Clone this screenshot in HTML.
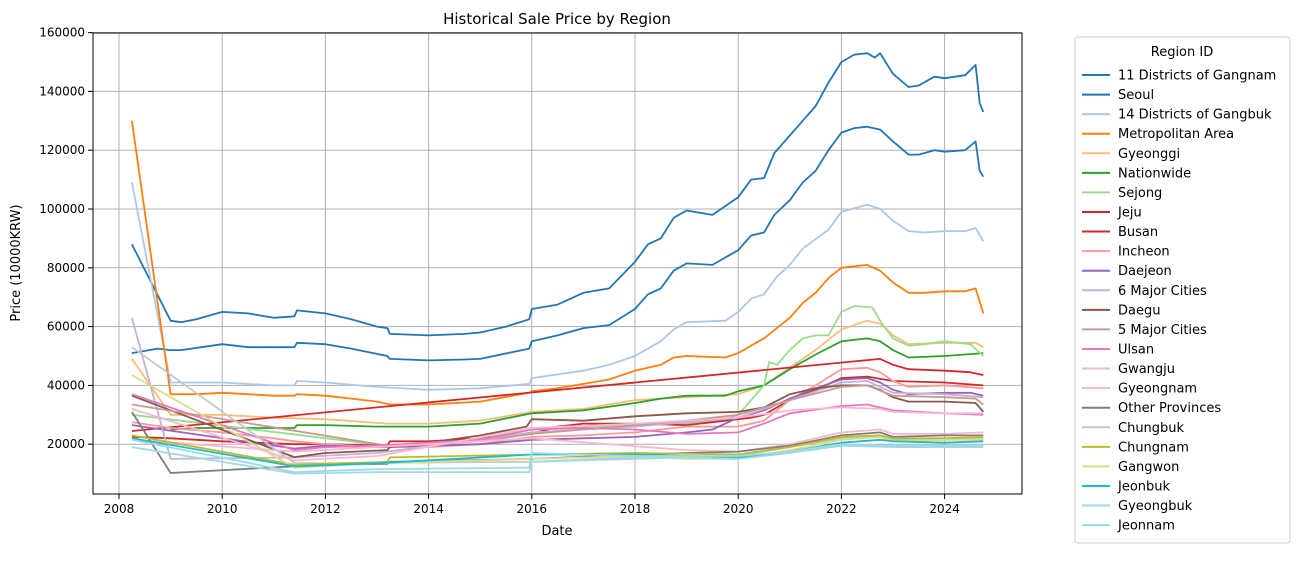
<!DOCTYPE html>
<html><head><meta charset="utf-8"><style>
body{margin:0;background:#fff;font-family:"Liberation Sans","DejaVu Sans",sans-serif;}
svg text{font-family:"DejaVu Sans","Liberation Sans",sans-serif;fill:#000}
</style></head><body>
<svg id="chart" width="1304" height="577" xmlns="http://www.w3.org/2000/svg">
<rect width="1304" height="577" fill="#fff"/>
<g id="grid"></g><g id="series"></g>
<rect x="93" y="33" width="929" height="461" fill="none" stroke="#000" stroke-width="1"/>
<g id="ticks"></g>
<text x="557" y="24" font-size="15" text-anchor="middle">Historical Sale Price by Region</text>
<text x="557" y="535" font-size="13" text-anchor="middle">Date</text>
<text transform="translate(20,263) rotate(-90)" font-size="13" text-anchor="middle">Price (10000KRW)</text>
<g id="legend">
<rect x="1075" y="37" width="215" height="506" rx="3" fill="#fff" stroke="#ccc"/>
<text x="1182" y="56" font-size="13" text-anchor="middle">Region ID</text>
</g>
</svg>
<script>
const names=["11 Districts of Gangnam","Seoul","14 Districts of Gangbuk","Metropolitan Area","Gyeonggi","Nationwide","Sejong","Jeju","Busan","Incheon","Daejeon","6 Major Cities","Daegu","5 Major Cities","Ulsan","Gwangju","Gyeongnam","Other Provinces","Chungbuk","Chungnam","Gangwon","Jeonbuk","Gyeongbuk","Jeonnam"];
const colors=["#1f77b4","#1f77b4","#aec7e8","#ff7f0e","#ffbb78","#2ca02c","#98df8a","#d62728","#d62728","#ff9896","#9467bd","#c5b0d5","#8c564b","#c49c94","#e377c2","#f7b6d2","#f7b6d2","#7f7f7f","#c7c7c7","#bcbd22","#dbdb8d","#17becf","#9edae5","#9edae5"];
const xTicks=[2008,2010,2012,2014,2016,2018,2020,2022,2024];
const yTicks=[20000,40000,60000,80000,100000,120000,140000,160000];
const gangnam=[[2008.25,88000],[2009,62000],[2009.2,61500],[2009.5,62500],[2010,65000],[2010.5,64500],[2011,63000],[2011.4,63500],[2011.45,65500],[2012,64500],[2012.5,62500],[2013,60000],[2013.2,59500],[2013.25,57500],[2014,57000],[2014.7,57500],[2015,58000],[2015.5,60000],[2015.95,62500],[2016,66000],[2016.5,67500],[2017,71500],[2017.5,73000],[2018,82000],[2018.25,88000],[2018.5,90000],[2018.75,97000],[2019,99500],[2019.5,98000],[2019.75,101000],[2020,104000],[2020.25,110000],[2020.5,110500],[2020.7,119000],[2021,125000],[2021.25,130000],[2021.5,135000],[2021.75,143000],[2022,150000],[2022.25,152500],[2022.5,153000],[2022.65,151500],[2022.75,153000],[2023,146000],[2023.3,141500],[2023.5,142000],[2023.8,145000],[2024,144500],[2024.4,145500],[2024.6,149000],[2024.68,136000],[2024.75,133000]];
const seoul=[[2008.25,51000],[2008.75,52500],[2009,52000],[2009.2,52000],[2010,54000],[2010.5,53000],[2011.4,53000],[2011.45,54500],[2012,54000],[2012.5,52500],[2013.2,50000],[2013.25,49000],[2014,48500],[2014.7,48800],[2015,49000],[2015.95,52500],[2016,55000],[2016.5,57000],[2017,59500],[2017.5,60500],[2018,66000],[2018.25,71000],[2018.5,73000],[2018.75,79000],[2019,81500],[2019.5,81000],[2019.75,83500],[2020,86000],[2020.25,91000],[2020.5,92000],[2020.7,98000],[2021,103000],[2021.25,109000],[2021.5,113000],[2021.75,120000],[2022,126000],[2022.25,127500],[2022.5,128000],[2022.75,127000],[2023,123000],[2023.3,118500],[2023.5,118500],[2023.8,120000],[2024,119500],[2024.4,120000],[2024.6,123000],[2024.68,113000],[2024.75,111000]];
const gangbuk=[[2008.25,109000],[2009,41000],[2010,41000],[2011,40000],[2011.4,40000],[2011.45,41500],[2012,41000],[2013,39500],[2014,38500],[2015,39000],[2015.95,40500],[2016,42500],[2017,45000],[2017.5,47000],[2018,50000],[2018.5,55000],[2018.75,59000],[2019,61500],[2019.75,62000],[2020,65000],[2020.25,69500],[2020.5,71000],[2020.75,77000],[2021,81000],[2021.25,86500],[2021.75,93000],[2022,99000],[2022.5,101500],[2022.75,100000],[2023,96000],[2023.3,92500],[2023.6,92000],[2024,92500],[2024.4,92500],[2024.6,93500],[2024.75,89000]];
const metro=[[2008.25,130000],[2009,37000],[2009.5,37000],[2010,37500],[2010.5,37000],[2011,36500],[2011.4,36500],[2011.45,37000],[2012,36500],[2012.5,35500],[2013,34500],[2013.25,33500],[2014,33500],[2015,34500],[2015.95,37500],[2016,38000],[2016.5,39000],[2017,40500],[2017.5,42000],[2018,45000],[2018.5,47000],[2018.75,49500],[2019,50000],[2019.75,49500],[2020,51000],[2020.25,53500],[2020.5,56000],[2021,63000],[2021.25,68000],[2021.5,71500],[2021.75,76500],[2022,80000],[2022.5,81000],[2022.75,79000],[2023,75000],[2023.3,71500],[2023.6,71500],[2024,72000],[2024.4,72000],[2024.6,73000],[2024.75,64500]];
const gyeonggi=[[2008.25,49000],[2009,30000],[2010,30000],[2011,29000],[2012,28500],[2013.2,27000],[2014,27000],[2015,28000],[2016,31000],[2017,32000],[2018,35000],[2019,36000],[2020,37000],[2020.5,40000],[2021,46000],[2021.5,52000],[2022,59000],[2022.5,62000],[2022.75,61000],[2023,57000],[2023.3,54000],[2024,54500],[2024.6,54500],[2024.75,53000]];
const nationwide=[[2009,25000],[2009.5,25500],[2011.4,25500],[2011.45,26500],[2012,26500],[2013,26000],[2014,26000],[2015,27000],[2016,30500],[2017,31500],[2018,34000],[2018.5,35500],[2019,36500],[2019.75,36500],[2020,38000],[2020.5,40000],[2021,45500],[2021.5,50500],[2022,55000],[2022.5,56000],[2022.75,55000],[2023,52000],[2023.3,49500],[2024,50000],[2024.75,51000]];
const sejong=[[2008.25,30000],[2013.2,19500],[2014,20000],[2015,22000],[2016,25000],[2017,26000],[2018,26500],[2019,27000],[2019.7,28000],[2020,30000],[2020.25,35000],[2020.5,40000],[2020.6,48000],[2020.75,47000],[2021,52000],[2021.25,56000],[2021.5,57000],[2021.75,57000],[2022,65000],[2022.25,67000],[2022.6,66500],[2022.75,62000],[2023,56000],[2023.3,53500],[2023.6,54000],[2024,55000],[2024.5,54000],[2024.75,50000]];
const jeju=[[2008.25,24500],[2022.75,49000],[2023,47000],[2023.3,45500],[2024,45000],[2024.5,44500],[2024.75,43500]];
const busan=[[2008.25,22500],[2009,22000],[2010,21000],[2011.4,20000],[2012,20000],[2013.2,19500],[2013.25,21000],[2014,21000],[2015,22000],[2016,23500],[2016.5,26000],[2017,27000],[2018,27000],[2019,26500],[2019.75,28000],[2020.25,29000],[2020.5,30000],[2021,35000],[2021.5,38500],[2022,42500],[2022.5,43000],[2023,41500],[2024,41000],[2024.75,40000]];
const incheon=[[2008.25,27500],[2009,25500],[2010,24000],[2011,22000],[2011.4,21000],[2012,20000],[2013,19000],[2014,19000],[2015,20000],[2016,22500],[2017,23000],[2018,24000],[2019,26000],[2020,26000],[2020.5,28000],[2021,35000],[2021.5,40000],[2022,45500],[2022.5,46000],[2022.75,44500],[2023,41500],[2023.3,39500],[2024,40000],[2024.75,39000]];
const daejeon=[[2008.25,26500],[2011.4,18500],[2012,19500],[2013,19000],[2014,19500],[2015,20000],[2016,21500],[2017,22000],[2018,22500],[2019,24000],[2019.5,25000],[2020,29000],[2020.5,31500],[2021,35500],[2021.5,39000],[2022,42000],[2022.5,42500],[2022.75,41000],[2023,38500],[2023.3,37000],[2024,37500],[2024.5,37500],[2024.75,36500]];
const sixMajor=[[2008.25,63000],[2009,15000],[2011.4,15500],[2013,17000],[2016,24000],[2018,26000],[2020,29000],[2021,35000],[2022,41000],[2022.5,41500],[2023,37500],[2024,37000],[2024.75,36000]];
const daegu=[[2008.25,36500],[2011.4,15600],[2012,17000],[2013.2,18000],[2013.25,19000],[2014,20500],[2015,23000],[2015.9,26000],[2016,28500],[2017,28000],[2018,29500],[2019,30500],[2020,31000],[2020.5,32500],[2021,37000],[2021.5,39000],[2022,40000],[2022.5,40000],[2022.75,38500],[2023,36000],[2023.3,34500],[2024,34500],[2024.6,34000],[2024.75,31000]];
const fiveMajor=[[2008.25,33500],[2013.2,19500],[2014,20000],[2015,21000],[2016,23500],[2017,25000],[2018,26500],[2019,28000],[2020,30000],[2021,35000],[2022,39500],[2022.5,40000],[2023,36500],[2024,36000],[2024.6,35500],[2024.75,33500]];
const ulsan=[[2008.25,37000],[2011.4,18000],[2012,19000],[2013,19500],[2014,20500],[2015,21500],[2016,25000],[2017,25500],[2018,25000],[2019,23500],[2020,24000],[2020.5,27000],[2021,30500],[2022,33000],[2022.5,33500],[2023,31500],[2024,30500],[2024.75,30000]];
const gwangju=[[2008.25,21500],[2011.4,17500],[2016,22000],[2019,18000],[2020,17500],[2021,20000],[2022,24000],[2022.75,25000],[2023,23500],[2024,23500],[2024.75,24000]];
const gyeongnam=[[2008.25,32000],[2011.4,14500],[2013,16000],[2016,25500],[2018,27000],[2020,29000],[2021,31500],[2022,32500],[2022.75,32000],[2023,31000],[2024,30500],[2024.75,30500]];
const otherProv=[[2008.25,31000],[2009,10200],[2011.4,12500],[2012,13000],[2013.2,13300],[2013.25,14000],[2016,15000],[2018,16500],[2019,17000],[2020,17500],[2021,19500],[2022,23000],[2022.75,24000],[2023,22500],[2024,23000],[2024.75,23000]];
const chungbuk=[[2008.25,53000],[2011.4,13600],[2012,13500],[2016,14000],[2018,15500],[2020,16000],[2021,19000],[2022,22000],[2022.75,22500],[2023,21500],[2024,21500],[2024.75,22000]];
const chungnam=[[2008.25,23000],[2011.4,13000],[2013.2,14000],[2013.25,15500],[2016,16500],[2018,17000],[2020,16500],[2021,19000],[2022,22500],[2022.75,23000],[2023,22000],[2024,22000],[2024.75,22500]];
const gangwon=[[2008.25,43500],[2011.4,12000],[2013,13500],[2016,15000],[2018,16000],[2019,15000],[2020,15000],[2021,18000],[2022,21500],[2022.75,22500],[2023,21000],[2024,21500],[2024.75,21500]];
const jeonbuk=[[2008.25,22000],[2011.4,12500],[2013,13500],[2016,16500],[2018,16500],[2020,15500],[2021,17500],[2022,20500],[2022.75,21500],[2023,21000],[2024,20500],[2024.75,21000]];
const gyeongbuk=[[2008.25,21500],[2011.4,10500],[2013,11500],[2015.95,12000],[2016,17000],[2018,16000],[2020,16000],[2021,17500],[2022,20000],[2023,19500],[2024,19500],[2024.75,19500]];
const jeonnam=[[2008.25,19000],[2011.4,10000],[2013,10500],[2015.95,10500],[2016,14000],[2018,15000],[2019,15500],[2020,15000],[2021,17000],[2022,19500],[2023,19000],[2024,19000],[2024.75,19000]];
const seriesData=[gangnam,seoul,gangbuk,metro,gyeonggi,nationwide,sejong,jeju,busan,incheon,daejeon,sixMajor,daegu,fiveMajor,ulsan,gwangju,gyeongnam,otherProv,chungbuk,chungnam,gangwon,jeonbuk,gyeongbuk,jeonnam];

const NS="http://www.w3.org/2000/svg";
const xS=y=>119+(y-2008)*51.6;
const yS=v=>503-v*58.8/20000;
const mk=(t,a,p)=>{const e=document.createElementNS(NS,t);for(const k in a)e.setAttribute(k,a[k]);p.appendChild(e);return e;};
const grid=document.getElementById('grid'),ticks=document.getElementById('ticks');
xTicks.forEach(t=>{const x=xS(t);
 const g=mk('line',{x1:x,x2:x,y1:33,y2:494,stroke:'#b0b0b0','stroke-width':1},grid);
 
 
 mk('line',{x1:x,x2:x,y1:494,y2:499,stroke:'#000'},ticks);
 const tx=mk('text',{x:x,y:513,'font-size':12,'text-anchor':'middle'},ticks);tx.textContent=t;
 
 });
yTicks.forEach(t=>{const y=yS(t);
 const g=mk('line',{x1:93,x2:1022,y1:y,y2:y,stroke:'#b0b0b0','stroke-width':1},grid);
 
 
 mk('line',{x1:88,x2:93,y1:y,y2:y,stroke:'#000'},ticks);
 const tx=mk('text',{x:85,y:y+4,'font-size':12,'text-anchor':'end'},ticks);tx.textContent=t;
 
 });
const sg=document.getElementById('series'),lg=document.getElementById('legend');
seriesData.forEach((d,i)=>{
 const p=mk('polyline',{points:d.map(q=>xS(q[0]).toFixed(1)+','+yS(q[1]).toFixed(1)).join(' '),fill:'none',stroke:colors[i],'stroke-width':1.8,'stroke-linejoin':'round'},sg);
 
 
 const ly=75+i*19.57;
 const li=mk('g',{},lg);
 
 
 mk('line',{x1:1082,x2:1110,y1:ly,y2:ly,stroke:colors[i],'stroke-width':2},li);
 const t=mk('text',{x:1118,y:ly+4.5,'font-size':13},li);t.textContent=names[i];
});
</script>
</body></html>
